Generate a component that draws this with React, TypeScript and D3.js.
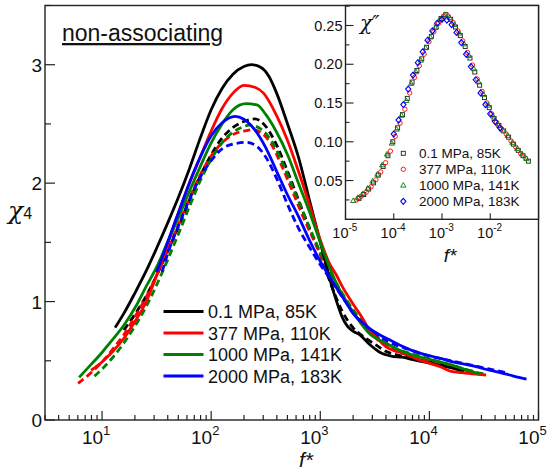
import React from 'react';
import * as d3 from 'd3';

// ---------- DATA ----------
const seriesLabels = ['0.1 MPa, 85K', '377 MPa, 110K', '1000 MPa, 141K', '2000 MPa, 183K'];
const seriesColors = ['#000000', '#ff0000', '#008000', '#0000ff'];

// main panel: [log10 f*, chi4]
const solidBlack: [number, number][] = [[1.12,0.78],[1.2,0.90],[1.3,1.07],[1.4,1.25],[1.5,1.45],[1.6,1.66],[1.7,1.88],[1.8,2.12],[1.9,2.38],[2.0,2.62],[2.1,2.80],[2.2,2.92],[2.3,2.985],[2.37,3.0],[2.45,2.98],[2.53,2.90],[2.6,2.76],[2.7,2.50],[2.8,2.22],[2.9,1.86],[3.0,1.50],[3.05,1.32],[3.1,1.15],[3.15,1.00],[3.2,0.87],[3.25,0.79],[3.3,0.75],[3.36,0.72],[3.45,0.64],[3.55,0.57],[3.65,0.54],[3.75,0.53],[3.85,0.51],[3.95,0.49],[4.05,0.47],[4.15,0.45],[4.25,0.43],[4.32,0.41]];
const solidRed: [number, number][] = [[0.9,0.42],[1.0,0.49],[1.1,0.58],[1.2,0.69],[1.3,0.83],[1.4,0.99],[1.5,1.22],[1.6,1.48],[1.7,1.75],[1.8,2.0],[1.9,2.22],[2.0,2.44],[2.1,2.63],[2.2,2.76],[2.3,2.826],[2.4,2.81],[2.48,2.76],[2.6,2.57],[2.7,2.36],[2.8,2.10],[2.9,1.82],[3.0,1.52],[3.08,1.33],[3.15,1.22],[3.2,1.13],[3.3,0.98],[3.38,0.87],[3.45,0.76],[3.53,0.68],[3.6,0.62],[3.7,0.58],[3.8,0.55],[3.9,0.51],[4.0,0.48],[4.1,0.45],[4.2,0.41],[4.3,0.40],[4.4,0.39],[4.52,0.38]];
const solidGreen: [number, number][] = [[0.79,0.36],[0.9,0.47],[1.0,0.57],[1.07,0.65],[1.2,0.80],[1.31,0.96],[1.4,1.12],[1.5,1.29],[1.6,1.50],[1.7,1.71],[1.8,1.93],[1.9,2.14],[2.0,2.34],[2.1,2.50],[2.2,2.62],[2.32,2.671],[2.42,2.66],[2.5,2.58],[2.6,2.43],[2.7,2.24],[2.8,2.0],[2.9,1.76],[3.0,1.50],[3.08,1.30],[3.15,1.15],[3.22,1.03],[3.33,0.87],[3.45,0.73],[3.6,0.65],[3.75,0.58],[3.9,0.535],[4.05,0.50],[4.2,0.465],[4.35,0.42],[4.46,0.39]];
const solidBlue: [number, number][] = [[1.5,1.25],[1.55,1.37],[1.6,1.50],[1.7,1.75],[1.8,2.0],[1.9,2.22],[2.0,2.40],[2.1,2.51],[2.22,2.564],[2.3,2.54],[2.4,2.45],[2.5,2.30],[2.6,2.10],[2.7,1.90],[2.8,1.72],[2.9,1.52],[3.0,1.34],[3.085,1.21],[3.16,1.10],[3.238,0.99],[3.3,0.90],[3.39,0.82],[3.47,0.76],[3.543,0.72],[3.65,0.67],[3.757,0.62],[3.86,0.58],[3.97,0.55],[4.1,0.52],[4.215,0.49],[4.33,0.47],[4.43,0.45],[4.55,0.42],[4.65,0.40],[4.735,0.38],[4.82,0.36],[4.89,0.345]];

const dashBlack: [number, number][] = [[1.2,0.76],[1.3,0.89],[1.4,1.04],[1.5,1.22],[1.6,1.42],[1.7,1.63],[1.8,1.85],[1.9,2.06],[2.0,2.24],[2.1,2.38],[2.2,2.47],[2.3,2.52],[2.4,2.542],[2.5,2.48],[2.58,2.36],[2.7,2.10],[2.8,1.86],[2.9,1.62],[3.0,1.40],[3.1,1.14],[3.2,0.92],[3.3,0.78],[3.4,0.70],[3.5,0.64],[3.6,0.58],[3.7,0.55],[3.8,0.53],[3.9,0.51],[4.0,0.49],[4.1,0.47],[4.2,0.45],[4.3,0.43],[4.4,0.41]];
const dashRed: [number, number][] = [[0.78,0.31],[0.9,0.40],[1.0,0.49],[1.1,0.60],[1.2,0.72],[1.3,0.87],[1.4,1.03],[1.5,1.22],[1.6,1.43],[1.7,1.65],[1.8,1.87],[1.9,2.07],[2.0,2.23],[2.1,2.34],[2.2,2.41],[2.3,2.44],[2.38,2.451],[2.45,2.43],[2.55,2.33],[2.65,2.14],[2.75,1.92],[2.85,1.70],[2.95,1.50],[3.05,1.30],[3.15,1.14],[3.25,0.98],[3.35,0.85],[3.45,0.74],[3.55,0.66],[3.65,0.60],[3.8,0.55],[3.95,0.51],[4.1,0.47],[4.25,0.43],[4.4,0.40],[4.5,0.38]];
const dashGreen: [number, number][] = [[0.93,0.37],[1.0,0.43],[1.1,0.53],[1.2,0.65],[1.3,0.79],[1.4,0.95],[1.5,1.14],[1.6,1.35],[1.7,1.57],[1.8,1.80],[1.9,2.02],[2.0,2.20],[2.1,2.34],[2.2,2.43],[2.28,2.47],[2.35,2.49],[2.45,2.46],[2.55,2.36],[2.65,2.18],[2.75,1.96],[2.85,1.74],[2.95,1.52],[3.05,1.32],[3.15,1.15],[3.25,1.0],[3.35,0.87],[3.45,0.76],[3.55,0.68],[3.65,0.62],[3.8,0.57],[3.95,0.53],[4.1,0.49],[4.25,0.45],[4.4,0.41],[4.5,0.39]];
const dashBlue: [number, number][] = [[1.55,1.25],[1.6,1.40],[1.7,1.64],[1.8,1.86],[1.9,2.05],[2.0,2.19],[2.1,2.29],[2.2,2.33],[2.32,2.344],[2.42,2.31],[2.5,2.22],[2.6,2.04],[2.7,1.82],[2.8,1.62],[2.9,1.46],[3.0,1.31],[3.1,1.18],[3.2,1.04],[3.3,0.91],[3.4,0.80],[3.5,0.73],[3.6,0.67],[3.7,0.63],[3.8,0.60],[3.9,0.57],[4.0,0.54],[4.1,0.52],[4.2,0.50],[4.3,0.48],[4.4,0.46],[4.5,0.44],[4.6,0.42],[4.7,0.40]];

// inset: [log10 f*, chi'']
const insetBlack: [number, number][] = [[-4.72,0.027],[-4.62,0.032],[-4.52,0.039],[-4.42,0.047],[-4.32,0.057],[-4.22,0.068],[-4.12,0.082],[-4.02,0.100],[-3.92,0.118],[-3.82,0.135],[-3.72,0.156],[-3.62,0.177],[-3.52,0.192],[-3.42,0.207],[-3.32,0.222],[-3.22,0.236],[-3.12,0.248],[-3.02,0.259],[-2.92,0.264],[-2.82,0.258],[-2.72,0.248],[-2.62,0.237],[-2.52,0.223],[-2.42,0.208],[-2.32,0.190],[-2.22,0.173],[-2.12,0.157],[-2.02,0.144],[-1.92,0.130],[-1.82,0.121],[-1.72,0.114],[-1.62,0.106],[-1.52,0.097],[-1.42,0.089],[-1.32,0.082],[-1.21,0.075]];
const insetRed: [number, number][] = [[-4.77,0.025],[-4.67,0.030],[-4.57,0.035],[-4.47,0.042],[-4.37,0.051],[-4.27,0.061],[-4.17,0.073],[-4.07,0.088],[-3.97,0.107],[-3.87,0.124],[-3.77,0.142],[-3.67,0.163],[-3.57,0.183],[-3.47,0.198],[-3.37,0.213],[-3.27,0.229],[-3.17,0.242],[-3.07,0.253],[-2.97,0.262],[-2.87,0.262],[-2.77,0.254],[-2.67,0.243],[-2.57,0.230],[-2.47,0.215],[-2.37,0.199],[-2.27,0.181],[-2.17,0.165],[-2.07,0.150],[-1.97,0.136],[-1.87,0.125],[-1.77,0.117],[-1.67,0.110],[-1.57,0.101],[-1.47,0.093],[-1.37,0.085],[-1.27,0.079]];
const insetGreen: [number, number][] = [[-4.84,0.024],[-4.74,0.028],[-4.64,0.033],[-4.54,0.040],[-4.44,0.049],[-4.34,0.058],[-4.24,0.070],[-4.14,0.084],[-4.04,0.098],[-3.94,0.116],[-3.84,0.134],[-3.74,0.153],[-3.64,0.175],[-3.54,0.190],[-3.44,0.205],[-3.34,0.221],[-3.24,0.235],[-3.14,0.247],[-3.04,0.258],[-2.94,0.264],[-2.84,0.260],[-2.74,0.251],[-2.64,0.240],[-2.54,0.226],[-2.44,0.211],[-2.34,0.194],[-2.24,0.177],[-2.14,0.161],[-2.04,0.147],[-1.94,0.133],[-1.84,0.123],[-1.74,0.115],[-1.64,0.108],[-1.54,0.099],[-1.44,0.091],[-1.34,0.084],[-1.25,0.078]];
const insetBlue: [number, number][] = [[-4.0,0.110],[-3.9,0.128],[-3.8,0.148],[-3.7,0.168],[-3.6,0.186],[-3.5,0.202],[-3.4,0.216],[-3.3,0.231],[-3.2,0.243],[-3.1,0.253],[-3.0,0.258],[-2.9,0.257],[-2.8,0.251],[-2.7,0.241],[-2.6,0.228],[-2.5,0.213],[-2.4,0.197],[-2.3,0.180],[-2.2,0.163],[-2.1,0.148],[-2.0,0.136],[-1.9,0.126],[-1.8,0.118]];

const mainXTicks = [1e1, 1e2, 1e3, 1e4, 1e5];
const mainYTicks = [0, 1, 2, 3];
const insetXTicks = [1e-5, 1e-4, 1e-3, 1e-2];
const insetYTicks = [0.05, 0.10, 0.15, 0.20, 0.25];

// ---------- LAYOUT ----------
const W = 554, H = 472;
const M = { l: 45, r: 538.5, t: 5.5, b: 420 };
const I = { l: 345.5, r: 538.5, t: 5.5, b: 219.3 };
const FONT = "'Liberation Sans', Arial, Helvetica, sans-serif";
const SERIF = "'DejaVu Serif', 'Liberation Serif', serif";

export default function App() {
  const x = d3.scaleLog().domain([3, 1e5]).range([M.l, M.r]);
  const y = d3.scaleLinear().domain([0, 3.5]).range([M.b, M.t]);
  const xi = d3.scaleLog().domain([1e-5, 1e-1]).range([I.l, I.r]);
  const yi = d3.scaleLinear().domain([0, 0.2758]).range([I.b, I.t]);

  const line = d3.line<[number, number]>()
    .x(d => x(Math.pow(10, d[0])))
    .y(d => y(d[1]))
    .curve(d3.curveMonotoneX);

  const solids = [solidBlack, solidRed, solidGreen, solidBlue];
  const dashes = [dashBlack, dashRed, dashGreen, dashBlue];
  const insets = [insetBlack, insetRed, insetGreen, insetBlue];

  const minorX: number[] = [];
  for (let e = 0; e <= 4; e++) for (let k = 2; k <= 9; k++) {
    const v = k * Math.pow(10, e);
    if (v >= 3 && v <= 1e5) minorX.push(v);
  }
  const minorY = [0.5, 1.5, 2.5, 3.5];
  const minorYi = [0.025, 0.075, 0.125, 0.175, 0.225, 0.275];

  const marker = (i: number, cx: number, cy: number, key: string) => {
    const c = seriesColors[i];
    if (i === 0) return <rect key={key} x={cx - 2} y={cy - 2} width={4} height={4} fill="none" stroke="#222" strokeWidth={0.9} />;
    if (i === 1) return <circle key={key} cx={cx} cy={cy} r={2.2} fill="none" stroke={c} strokeWidth={0.9} />;
    if (i === 2) return <path key={key} d={`M${cx},${cy - 2.8}L${cx + 2.6},${cy + 1.8}L${cx - 2.6},${cy + 1.8}Z`} fill="none" stroke={c} strokeWidth={0.9} />;
    return <path key={key} d={`M${cx},${cy - 3}L${cx + 2.6},${cy}L${cx},${cy + 3}L${cx - 2.6},${cy}Z`} fill="none" stroke={c} strokeWidth={1.1} />;
  };

  return (
    <svg width={W} height={H} style={{ position: 'absolute', left: 0, top: 0, background: '#fff' }} fontFamily={FONT}>
      <rect x={0} y={0} width={W} height={H} fill="#fff" />
      <g fill="none" strokeWidth={2.8} strokeLinejoin="round">
        {dashes.map((d, i) => (
          <path key={'d' + i} d={line(d) || ''} stroke={seriesColors[i]} strokeDasharray="7,4" />
        ))}
        {solids.map((d, i) => (
          <path key={'s' + i} d={line(d) || ''} stroke={seriesColors[i]} />
        ))}
      </g>

      <rect x={M.l} y={M.t} width={M.r - M.l} height={M.b - M.t} fill="none" stroke="#222" strokeWidth={1.4} />
      <g stroke="#222" strokeWidth={1.2}>
        {mainXTicks.map(v => <line key={'mx' + v} x1={x(v)} x2={x(v)} y1={M.b} y2={M.b - 9} />)}
        {minorX.map(v => <line key={'mnx' + v} x1={x(v)} x2={x(v)} y1={M.b} y2={M.b - 5} />)}
        {mainYTicks.map(v => <line key={'my' + v} x1={M.l} x2={M.l + 10} y1={y(v)} y2={y(v)} />)}
        {minorY.map(v => <line key={'mny' + v} x1={M.l} x2={M.l + 6} y1={y(v)} y2={y(v)} />)}
      </g>
      <g fontSize={19} fill="#111">
        {mainYTicks.map(v => <text key={'ly' + v} x={M.l - 3} y={y(v) + 7} textAnchor="end">{v}</text>)}
        {mainXTicks.map(v => (
          <text key={'lx' + v} x={x(v) + 1} y={M.b + 24} textAnchor="end">10</text>
        ))}
        {mainXTicks.map((v, i) => (
          <text key={'lxs' + v} x={x(v) + 1} y={M.b + 15} fontSize={13}>{i + 1}</text>
        ))}
      </g>
      <text x={306} y={467} fontSize={21} fontStyle="italic" textAnchor="middle" fill="#111">f*</text>
      <text x={8} y={219} fill="#111"><tspan fontSize={25} fontFamily={SERIF} fontStyle="italic">χ</tspan><tspan fontSize={16}>4</tspan></text>
      <text x={62} y={41} fontSize={23} fill="#111" textDecoration="underline">non-associating</text>

      {seriesLabels.map((s, i) => (
        <g key={'lg' + i}>
          <line x1={163.5} x2={203.5} y1={311.5 + i * 21.5} y2={311.5 + i * 21.5} stroke={seriesColors[i]} strokeWidth={2.8} />
          <text x={208} y={318 + i * 21.5} fontSize={18} fill="#111">{s}</text>
        </g>
      ))}

      <rect x={I.l} y={I.t} width={I.r - I.l} height={I.b - I.t} fill="#fff" stroke="#222" strokeWidth={1.4} />
      <g>
        {insets.map((d, i) => d.map((p, j) => marker(i, xi(Math.pow(10, p[0])), yi(p[1]), `m${i}-${j}`)))}
      </g>
      <g stroke="#222" strokeWidth={1.1}>
        {insetYTicks.map(v => <line key={'iy' + v} x1={I.l} x2={I.l + 8} y1={yi(v)} y2={yi(v)} />)}
        {minorYi.map(v => <line key={'iny' + v} x1={I.l} x2={I.l + 4} y1={yi(v)} y2={yi(v)} />)}
        {insetXTicks.map(v => <line key={'ix' + v} x1={xi(v)} x2={xi(v)} y1={I.b} y2={I.b - 6} />)}
      </g>
      <g fontSize={14.5} fill="#111">
        {insetYTicks.map(v => <text key={'ily' + v} x={I.l - 3} y={yi(v) + 5} textAnchor="end">{v.toFixed(2)}</text>)}
        {insetXTicks.map(v => <text key={'ilx' + v} x={xi(v) + 3} y={I.b + 19} textAnchor="end">10</text>)}
        {insetXTicks.map((v, i) => <text key={'ilxs' + v} x={xi(v) + 3} y={I.b + 12} fontSize={10}>{'-' + (5 - i)}</text>)}
      </g>
      <text x={450} y={262} fontSize={19} fontStyle="italic" textAnchor="middle" fill="#111">f*</text>
      <text x={360} y={30} fontSize={20} fill="#111" fontFamily={SERIF} fontStyle="italic">χ″</text>
      {seriesLabels.map((s, i) => (
        <g key={'il' + i}>
          {marker(i, 403.3, 153.3 + i * 16, 'ilm' + i)}
          <text x={419} y={158.3 + i * 16} fontSize={13.5} fill="#111">{s}</text>
        </g>
      ))}
    </svg>
  );
}
